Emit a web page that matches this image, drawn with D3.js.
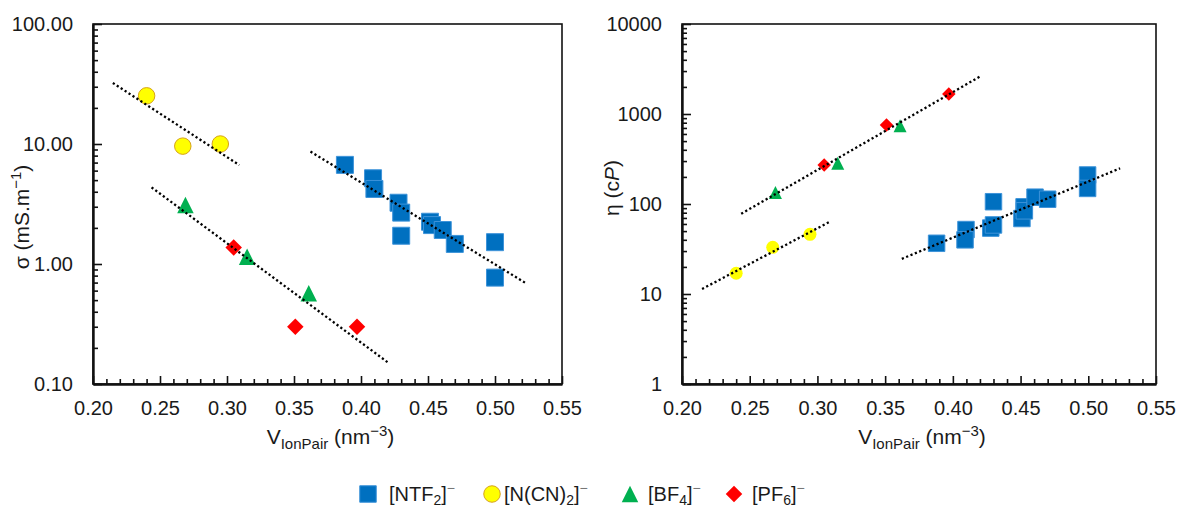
<!DOCTYPE html>
<html>
<head>
<meta charset="utf-8">
<script src="https://cdn.jsdelivr.net/npm/d3@7"></script>
<style>
  body { margin: 0; background: #fff; }
  svg text { font-family: "Liberation Sans", Arial, sans-serif; fill: #1a1a1a; }
</style>
</head>
<body>
<svg id="chart" width="1178" height="506"></svg>
<script>
// ---- conductivity panel (sigma, mS/m) ----
const ntf2CondVol = [0.388, 0.409, 0.410, 0.428, 0.430, 0.430, 0.4515, 0.453, 0.461, 0.470, 0.500, 0.500];
const ntf2Cond    = [6.7, 5.18, 4.22, 3.24, 2.68, 1.72, 2.25, 2.11, 1.92, 1.47, 1.52, 0.77];
const dcaCondVol  = [0.240, 0.267, 0.295];
const dcaCond     = [25.2, 9.6, 10.0];
const bf4CondVol  = [0.269, 0.315, 0.361];
const bf4Cond     = [3.1, 1.15, 0.57];
const pf6CondVol  = [0.305, 0.351, 0.397];
const pf6Cond     = [1.37, 0.30, 0.30];

// ---- viscosity panel (eta, cP) ----
const ntf2ViscVol = [0.388, 0.4097, 0.409, 0.430, 0.428, 0.430, 0.451, 0.4526, 0.4528, 0.4607, 0.470, 0.4995, 0.4995];
const ntf2Visc    = [36.6, 52, 40, 106, 54, 58.5, 69, 93, 84, 119, 113, 210, 149];
const dcaViscVol  = [0.240, 0.267, 0.2945];
const dcaVisc     = [17, 33, 46];
const bf4ViscVol  = [0.269, 0.315, 0.361];
const bf4Visc     = [134, 283, 742];
const pf6ViscVol  = [0.305, 0.351, 0.397];
const pf6Visc     = [271, 755, 1668];

// x-extent of the dotted trend lines
const ntf2FitRange = [0.3623, 0.5235];
const dcaFitRange  = [0.2148, 0.3092];
const bfpfFitRange = [0.2437, 0.4211];

const xTicks = [0.20, 0.25, 0.30, 0.35, 0.40, 0.45, 0.50, 0.55];
const condTicks = [0.1, 1, 10, 100];
const viscTicks = [1, 10, 100, 1000, 10000];

const styles = {
  ntf2: { shape: "square", fill: "#0070C0", stroke: "#3d93d9" },
  dca:  { shape: "circle", fill: "#FFFF00", stroke: "#d6a21c" },
  bf4:  { shape: "triangle", fill: "#00B050", stroke: "none" },
  pf6:  { shape: "diamond", fill: "#FF0000", stroke: "none" }
};

const svg = d3.select("#chart");

function markerPath(shape, s) {
  const h = s / 2;
  if (shape === "square") return `M${-h},${-h}h${s}v${s}h${-s}Z`;
  if (shape === "triangle") return `M0,${-h}L${h},${h}L${-h},${h}Z`;
  if (shape === "diamond") return `M0,${-h}L${h},0L0,${h}L${-h},0Z`;
  return `M${h},0A${h},${h} 0 1,1 ${-h},0A${h},${h} 0 1,1 ${h},0Z`;
}

// least squares in log10 space
function logFit(xs, ys) {
  const ly = ys.map(Math.log10);
  const mx = d3.mean(xs), my = d3.mean(ly);
  let sxy = 0, sxx = 0;
  xs.forEach((v, i) => { sxy += (v - mx) * (ly[i] - my); sxx += (v - mx) * (v - mx); });
  const b = sxy / sxx;
  return v => Math.pow(10, my + b * (v - mx));
}

function drawPanel(cfg) {
  const x = d3.scaleLinear().domain([0.2, 0.55]).range([cfg.left, cfg.right]);
  const y = d3.scaleLog().domain(cfg.yDomain).range([cfg.bottom, cfg.top]);
  const g = svg.append("g");

  g.append("rect")
    .attr("x", cfg.left).attr("y", cfg.top)
    .attr("width", cfg.right - cfg.left).attr("height", cfg.bottom - cfg.top)
    .attr("fill", "none").attr("stroke", "#111").attr("stroke-width", 1.6);

  // minor ticks
  const xMinor = d3.range(21, 55).filter(d => d % 5 !== 0).map(d => d / 100);
  const yMinor = [];
  cfg.yTicks.slice(0, -1).forEach(t => d3.range(2, 10).forEach(m => yMinor.push(t * m)));

  g.append("g")
    .attr("transform", `translate(0,${cfg.bottom})`)
    .call(d3.axisBottom(x).tickValues(xMinor).tickSize(-5).tickFormat(""))
    .call(a => a.select(".domain").remove());
  g.append("g")
    .attr("transform", `translate(${cfg.left},0)`)
    .call(d3.axisLeft(y).tickValues(yMinor).tickSize(-5).tickFormat(""))
    .call(a => a.select(".domain").remove());

  const xAxis = g.append("g")
    .attr("transform", `translate(0,${cfg.bottom})`)
    .call(d3.axisBottom(x).tickValues(xTicks).tickSize(-8).tickSizeOuter(0)
      .tickPadding(17).tickFormat(d3.format(".2f")));
  const yAxis = g.append("g")
    .attr("transform", `translate(${cfg.left},0)`)
    .call(d3.axisLeft(y).tickValues(cfg.yTicks).tickSize(-9).tickSizeOuter(0)
      .tickPadding(20).tickFormat(cfg.yFormat));

  g.selectAll(".tick line").attr("stroke", "#111").attr("stroke-width", 1.6);
  [xAxis, yAxis].forEach(a => {
    a.attr("font-family", null).attr("font-size", null);
    a.select(".domain").attr("stroke", "#111").attr("stroke-width", 2.4);
    a.selectAll("text").attr("font-size", 20).attr("fill", "#1a1a1a");
  });

  // markers
  cfg.series.forEach(s => {
    const st = styles[s.key];
    g.append("g").selectAll("path")
      .data(s.xs.map((v, i) => [v, s.ys[i]]))
      .join("path")
      .attr("transform", d => `translate(${x(d[0])},${y(d[1])})`)
      .attr("d", markerPath(st.shape, cfg.sizes[s.key]))
      .attr("fill", st.fill)
      .attr("stroke", s.key === "dca" && !cfg.circleEdge ? "none" : st.stroke)
      .attr("stroke-width", 1);
  });

  // dotted trend lines on top
  const line = d3.line().x(d => x(d[0])).y(d => y(d[1]));
  cfg.fits.forEach(f => {
    const fn = logFit(f.xs, f.ys);
    g.append("path")
      .attr("d", line(f.range.map(v => [v, fn(v)])))
      .attr("fill", "none").attr("stroke", "#000")
      .attr("stroke-width", 2.3).attr("stroke-dasharray", "2.2,2.5");
  });

  // x title
  const xt = g.append("text")
    .attr("x", (cfg.left + cfg.right) / 2 + 3).attr("y", 444)
    .attr("text-anchor", "middle").attr("font-size", 21);
  xt.append("tspan").text("V");
  xt.append("tspan").attr("dy", 5).attr("font-size", 15).text("IonPair");
  xt.append("tspan").attr("dy", -5).text(" (nm");
  xt.append("tspan").attr("dy", -8).attr("font-size", 15).text("\u22123");
  xt.append("tspan").attr("dy", 8).text(")");

  cfg.yTitle(g);
}

drawPanel({
  left: 93, right: 562, top: 24, bottom: 384,
  yDomain: [0.1, 100], yTicks: condTicks, yFormat: d3.format(".2f"),
  sizes: { ntf2: 17, dca: 16.5, bf4: 16.5, pf6: 16.5 },
  circleEdge: true,
  series: [
    { key: "ntf2", xs: ntf2CondVol, ys: ntf2Cond },
    { key: "dca", xs: dcaCondVol, ys: dcaCond },
    { key: "bf4", xs: bf4CondVol, ys: bf4Cond },
    { key: "pf6", xs: pf6CondVol, ys: pf6Cond }
  ],
  fits: [
    { xs: ntf2CondVol, ys: ntf2Cond, range: ntf2FitRange },
    { xs: dcaCondVol, ys: dcaCond, range: dcaFitRange },
    { xs: bf4CondVol.concat(pf6CondVol), ys: bf4Cond.concat(pf6Cond), range: bfpfFitRange }
  ],
  yTitle: g => {
    const t = g.append("text")
      .attr("transform", "translate(29,217) rotate(-90)")
      .attr("text-anchor", "middle").attr("font-size", 21);
    t.append("tspan").text("\u03c3 (mS.m");
    t.append("tspan").attr("dy", -8).attr("font-size", 15).text("\u22121");
    t.append("tspan").attr("dy", 8).text(")");
  }
});

drawPanel({
  left: 682, right: 1156, top: 24, bottom: 384,
  yDomain: [1, 10000], yTicks: viscTicks, yFormat: d3.format("d"),
  sizes: { ntf2: 16.5, dca: 13, bf4: 13, pf6: 13.5 },
  circleEdge: false,
  series: [
    { key: "ntf2", xs: ntf2ViscVol, ys: ntf2Visc },
    { key: "dca", xs: dcaViscVol, ys: dcaVisc },
    { key: "bf4", xs: bf4ViscVol, ys: bf4Visc },
    { key: "pf6", xs: pf6ViscVol, ys: pf6Visc }
  ],
  fits: [
    { xs: ntf2ViscVol, ys: ntf2Visc, range: ntf2FitRange },
    { xs: dcaViscVol, ys: dcaVisc, range: dcaFitRange },
    { xs: bf4ViscVol.concat(pf6ViscVol), ys: bf4Visc.concat(pf6Visc), range: bfpfFitRange }
  ],
  yTitle: g => {
    const t = g.append("text")
      .attr("transform", "translate(619,188) rotate(-90)")
      .attr("text-anchor", "middle").attr("font-size", 21);
    t.append("tspan").text("\u03b7 (c");
    t.append("tspan").attr("font-style", "italic").text("P");
    t.append("tspan").text(")");
  }
});

// legend
const legendItems = [
  { key: "ntf2", base: "[NTF", sub: "2", cx: 368, tx: 389 },
  { key: "dca", base: "[N(CN)", sub: "2", cx: 492, tx: 504 },
  { key: "bf4", base: "[BF", sub: "4", cx: 630, tx: 648 },
  { key: "pf6", base: "[PF", sub: "6", cx: 734, tx: 752 }
];

const legend = svg.append("g");
legendItems.forEach(it => {
  const st = styles[it.key];
  legend.append("path")
    .attr("transform", `translate(${it.cx},494)`)
    .attr("d", markerPath(st.shape, 16.5))
    .attr("fill", st.fill).attr("stroke", st.stroke).attr("stroke-width", 1);
  const t = legend.append("text").attr("x", it.tx).attr("y", 501).attr("font-size", 20);
  t.append("tspan").text(it.base);
  t.append("tspan").attr("dy", 4).attr("font-size", 14).text(it.sub);
  t.append("tspan").attr("dy", -4).text("]");
  t.append("tspan").attr("dy", -8).attr("font-size", 14).attr("fill", "#777").text("\u2212");
});
</script>
</body>
</html>
